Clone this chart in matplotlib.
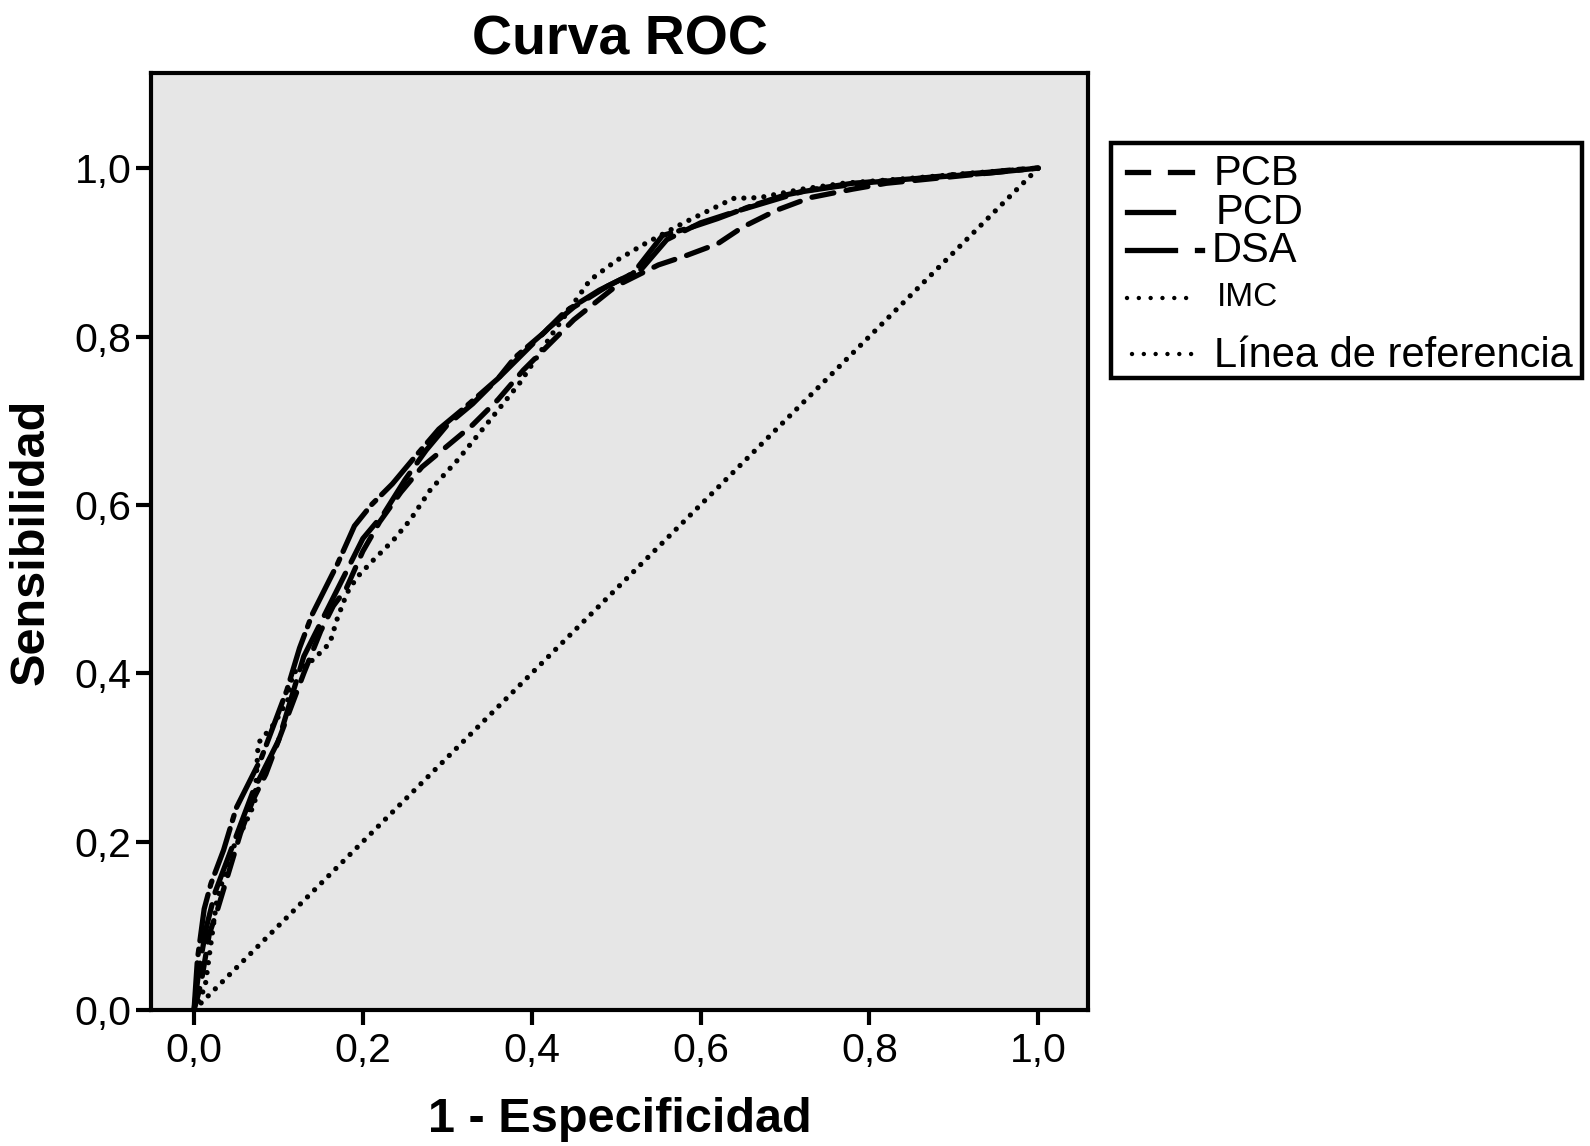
import matplotlib
matplotlib.use("Agg")
import matplotlib.pyplot as plt
from matplotlib.patches import Rectangle

plt.rcParams["font.family"] = ["Liberation Sans", "DejaVu Sans"]
plt.rcParams["lines.scale_dashes"] = False

# ROC curves (1 - specificity, sensitivity)
PCB_X = [0, 0.008, 0.018, 0.028, 0.04, 0.055, 0.07, 0.085, 0.10, 0.115, 0.13, 0.15, 0.165,
         0.18, 0.20, 0.22, 0.245, 0.27, 0.30, 0.33, 0.36, 0.39, 0.42, 0.45, 0.50, 0.55, 0.58,
         0.62, 0.65, 0.69, 0.73, 0.78, 0.82, 0.87, 0.92, 0.96, 1.0]
PCB_Y = [0, 0.03, 0.09, 0.12, 0.16, 0.21, 0.25, 0.28, 0.32, 0.36, 0.40, 0.45, 0.48,
         0.50, 0.545, 0.58, 0.615, 0.645, 0.67, 0.695, 0.725, 0.76, 0.79, 0.82, 0.86, 0.885, 0.895,
         0.91, 0.93, 0.95, 0.965, 0.975, 0.982, 0.987, 0.992, 0.996, 1.0]

PCD_X = [0, 0.006, 0.015, 0.025, 0.04, 0.055, 0.07, 0.085, 0.10, 0.115, 0.13, 0.15, 0.165,
         0.18, 0.20, 0.225, 0.25, 0.275, 0.30, 0.33, 0.365, 0.39, 0.42, 0.45, 0.49, 0.53, 0.56,
         0.60, 0.64, 0.68, 0.72, 0.76, 0.80, 0.85, 0.90, 0.95, 1.0]
PCD_Y = [0, 0.05, 0.10, 0.14, 0.18, 0.22, 0.26, 0.29, 0.32, 0.37, 0.42, 0.46, 0.49,
         0.52, 0.56, 0.59, 0.63, 0.665, 0.695, 0.72, 0.755, 0.78, 0.81, 0.835, 0.86, 0.88, 0.915,
         0.935, 0.948, 0.96, 0.972, 0.978, 0.983, 0.987, 0.991, 0.995, 1.0]

DSA_X = [0, 0.004, 0.012, 0.02, 0.035, 0.05, 0.065, 0.08, 0.095, 0.11, 0.125, 0.14, 0.155,
         0.17, 0.19, 0.21, 0.235, 0.26, 0.29, 0.32, 0.36, 0.38, 0.415, 0.44, 0.48, 0.52, 0.555,
         0.59, 0.62, 0.66, 0.70, 0.74, 0.78, 0.82, 0.86, 0.90, 0.94, 0.97, 1.0]
DSA_Y = [0, 0.06, 0.12, 0.15, 0.19, 0.24, 0.27, 0.30, 0.34, 0.38, 0.43, 0.47, 0.50,
         0.53, 0.575, 0.60, 0.625, 0.655, 0.69, 0.715, 0.75, 0.775, 0.805, 0.83, 0.855, 0.875, 0.92,
         0.93, 0.94, 0.955, 0.968, 0.976, 0.982, 0.985, 0.988, 0.992, 0.995, 0.998, 1.0]

IMC_X = [0, 0.013, 0.027, 0.045, 0.06, 0.072, 0.076, 0.095, 0.111, 0.117, 0.141, 0.161, 0.169,
         0.181, 0.193, 0.212, 0.236, 0.256, 0.28, 0.312, 0.35, 0.386, 0.425, 0.469, 0.50, 0.532,
         0.58, 0.639, 0.67, 0.72, 0.769, 0.85, 0.92, 1.0]
IMC_Y = [0, 0.027, 0.131, 0.19, 0.22, 0.246, 0.317, 0.34, 0.368, 0.40, 0.416, 0.436, 0.463,
         0.495, 0.514, 0.534, 0.558, 0.582, 0.618, 0.653, 0.70, 0.745, 0.804, 0.867, 0.89, 0.909,
         0.935, 0.964, 0.965, 0.975, 0.982, 0.988, 0.994, 1.0]

REF_X = [0, 1]
REF_Y = [0, 1]

TICKS = [0.0, 0.2, 0.4, 0.6, 0.8, 1.0]
TICK_LABELS = ["0,0", "0,2", "0,4", "0,6", "0,8", "1,0"]

LEGEND_LABELS = ["PCB", "PCD", "DSA", "IMC", "Línea de referencia"]

W, H = 1590, 1146
LW = 3.8
DOT = (0, (0.01, 7.2))
STYLES = {
    "PCB": (0, (16, 9)),
    "PCD": (0, (34, 9)),
    "DSA": (0, (34, 6, 4, 6)),
}

fig = plt.figure(figsize=(W / 100, H / 100), dpi=100)
ax = fig.add_axes([151 / W, 1 - 1010 / H, (1088 - 151) / W, (1010 - 73) / H])
ax.set_facecolor("#e6e6e6")

common = dict(color="black", linewidth=LW, dash_capstyle="round", solid_capstyle="round")
ax.plot(REF_X, REF_Y, linestyle=DOT, **common)
ax.plot(IMC_X, IMC_Y, linestyle=DOT, **common)
ax.plot(PCB_X, PCB_Y, linestyle=STYLES["PCB"], **common)
ax.plot(PCD_X, PCD_Y, linestyle=STYLES["PCD"], **common)
ax.plot(DSA_X, DSA_Y, linestyle=STYLES["DSA"], **common)

ax.set_xlim(-0.051, 1.059)
ax.set_ylim(0, 1.113)
ax.set_xticks(TICKS)
ax.set_xticklabels(TICK_LABELS)
ax.set_yticks(TICKS)
ax.set_yticklabels(TICK_LABELS)
ax.tick_params(axis="both", length=11, width=3, labelsize=29.5, color="black")
ax.tick_params(axis="x", pad=5)
ax.tick_params(axis="y", pad=3)
for sp in ax.spines.values():
    sp.set_linewidth(3)

ax.set_title("Curva ROC", fontsize=40, fontweight="bold", pad=13)
ax.set_xlabel("1 - Especificidad", fontsize=35, fontweight="bold", labelpad=19)
ax.set_ylabel("Sensibilidad", fontsize=35, fontweight="bold", labelpad=15)

# legend drawn in pixel coordinates
lg = fig.add_axes([0, 0, 1, 1], facecolor="none")
lg.set_xlim(0, W)
lg.set_ylim(H, 0)
lg.axis("off")
lg.add_patch(Rectangle((1111, 143), 471, 235, fill=False, edgecolor="black", linewidth=3.2))

lg.plot([1127, 1148], [172, 172], color="black", linewidth=LW)
lg.plot([1170, 1192], [172, 172], color="black", linewidth=LW)
lg.plot([1127, 1173], [212, 212], color="black", linewidth=LW)
lg.plot([1127, 1175], [250, 250], color="black", linewidth=LW)
lg.plot([1197, 1202], [250, 250], color="black", linewidth=LW)
lg.plot([1127, 1192], [298, 298], color="black", linewidth=3.2, linestyle=(0, (0.01, 8.5)),
        dash_capstyle="round")
lg.plot([1132, 1194], [354, 354], color="black", linewidth=3.2, linestyle=(0, (0.01, 8.5)),
        dash_capstyle="round")

text_pos = [(1214, 174, 30), (1216, 213, 30), (1212, 251, 30), (1217, 298, 24), (1214, 356, 30)]
for label, (tx, ty, fs) in zip(LEGEND_LABELS, text_pos):
    lg.text(tx, ty, label, fontsize=fs, ha="left", va="center")

fig.savefig("out.png", dpi=100)
